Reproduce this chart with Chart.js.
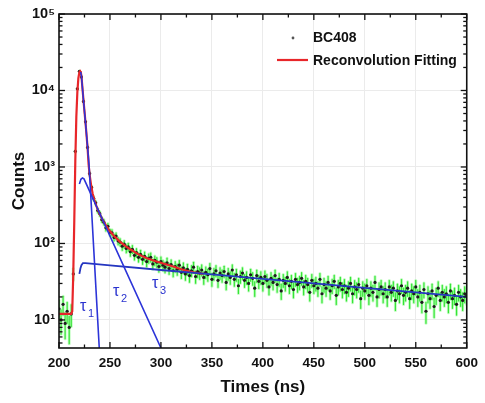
<!DOCTYPE html>
<html><head><meta charset="utf-8">
<script src="https://cdn.jsdelivr.net/npm/chart.js@4.4.0/dist/chart.umd.min.js"></script>
<style>html,body{margin:0;padding:0;background:#fff}</style>
</head><body>
<canvas id="c" width="485" height="403"></canvas>
<script>
// ---- measured data (BC408 decay) ----
const times = [
200,202,204,206,208,210,212,214,216,218,
220,222,224,226,228,230,232,234,236,238,
240,242,244,246,248,250,252,254,256,258,
260,262,264,266,268,270,272,274,276,278,
280,282,284,286,288,290,292,294,296,298,
300,302,304,306,308,310,312,314,316,318,
320,322,324,326,328,330,332,334,336,338,
340,342,344,346,348,350,352,354,356,358,
360,362,364,366,368,370,372,374,376,378,
380,382,384,386,388,390,392,394,396,398,
400,402,404,406,408,410,412,414,416,418,
420,422,424,426,428,430,432,434,436,438,
440,442,444,446,448,450,452,454,456,458,
460,462,464,466,468,470,472,474,476,478,
480,482,484,486,488,490,492,494,496,498,
500,502,504,506,508,510,512,514,516,518,
520,522,524,526,528,530,532,534,536,538,
540,542,544,546,548,550,552,554,556,558,
560,562,564,566,568,570,572,574,576,578,
580,582,584,586,588,590,592,594,596,598,
600];
const counts = [
14,10,16,9,13,8,12,40,1600,10500,
17800,15000,7200,3900,1800,820,540,390,340,270,
245,205,190,160,168,140,138,120,125,108,
104,92,98,86,90,78,84,70,76,66,
72,62,68,58,64,66,54,60,57,50,
58,52,49,56,47,53,44,50,46,52,
42,48,40,46,38,44,49,37,43,41,
45,36,42,39,47,34,40,44,33,41,
38,43,31,40,36,45,34,39,28,37,
41,33,36,30,39,35,26,38,32,36,
30,37,33,27,35,31,38,29,34,24,
33,30,36,28,32,25,34,29,31,35,
27,32,29,23,33,28,30,26,34,22,
29,26,31,24,28,32,21,27,30,25,
28,23,26,30,22,27,25,29,19,26,
24,28,21,26,23,31,20,25,27,22,
25,20,27,23,26,18,24,22,28,21,
23,26,19,24,22,27,20,23,17,25,
13,22,19,24,15,21,26,18,23,20,
22,17,24,19,21,16,23,20,18,22,
21];
// ---- reconvolution fit ----
const fitTimes  = [200,212,213,214,215,216,217,218,219,220,220.7,221.5,222,224,226,228,229,230,231.5,233,234.7,237,239.5,244,249,254,260,265,271,278,285,294,304,312,320,328,336,342];
const fitCounts = [12,12,13,40,200,1200,4500,9500,14500,17300,17800,17000,15500,7500,3800,1800,1100,800,580,450,370,300,250,190,150,125,105,93,82,72,65,59,54,50,46,43,41,40];
// ---- decay components ----
const tau1Times  = [221.2,222,224,226,228,229.5,239.5];
const tau1Counts = [17500,15500,7500,3800,1850,1050,4.3];
const tau2Times  = [220,221.5,223,224.5,300];
const tau2Counts = [600,690,720,700,4.3];
const tau3Times  = [220,221,222,223.5,226,250,300,350,400,450,500,550,600];
const tau3Counts = [40,47,52,55.5,55.5,51.7,45,39.4,34.4,30,26.2,22.9,20];
// ---- axis ticks ----
const yTickValues = [10,100,1000,10000,100000];
const yTickLabels = ['10\u00B9','10\u00B2','10\u00B3','10\u2074','10\u2075'];
const xTickValues = [200,250,300,350,400,450,500,550,600];

const FONT = "'Liberation Sans', Arial, sans-serif";
const toXY = (xs, ys) => xs.map((x, i) => ({x: x, y: ys[i]}));

const errorBars = {
  id: 'errorBars',
  beforeDatasetsDraw(chart) {
    const {ctx, chartArea: a, scales: {x, y}} = chart;
    ctx.save();
    ctx.beginPath(); ctx.rect(a.left, a.top, a.right - a.left, a.bottom - a.top); ctx.clip();
    ctx.lineCap = 'round';
    times.forEach((t, i) => {
      const v = counts[i], e = Math.sqrt(v) * 1.1;   // Poisson uncertainty of each count
      const px = x.getPixelForValue(t);
      const top = y.getPixelForValue(v + e), bot = y.getPixelForValue(Math.max(v - e, 1));
      ctx.strokeStyle = 'rgba(120,250,120,0.45)'; ctx.lineWidth = 3;
      ctx.beginPath(); ctx.moveTo(px, top); ctx.lineTo(px, bot); ctx.stroke();
      ctx.strokeStyle = 'rgba(40,225,40,0.9)'; ctx.lineWidth = 1.2;
      ctx.beginPath(); ctx.moveTo(px, top); ctx.lineTo(px, bot); ctx.stroke();
    });
    ctx.restore();
  }
};

const frame = {
  id: 'frame',
  afterDraw(chart) {
    const {ctx, chartArea: a, scales: {x, y}} = chart;
    ctx.save();
    ctx.strokeStyle = '#111';
    const seg = (x1, y1, x2, y2) => { ctx.beginPath(); ctx.moveTo(x1, y1); ctx.lineTo(x2, y2); ctx.stroke(); };
    ctx.lineWidth = 1.3;
    for (let t = x.min; t <= x.max; t += 25) {
      const px = x.getPixelForValue(t);
      const L = (xTickValues.indexOf(t) >= 0) ? 6 : 3.5;
      seg(px, a.bottom, px, a.bottom - L);
      seg(px, a.top, px, a.top + L);
    }
    for (let d = 0; d <= 5; d++) {
      for (let m = 1; m <= 9; m++) {
        const v = m * Math.pow(10, d);
        if (v < y.min || v > y.max) continue;
        const py = y.getPixelForValue(v);
        const L = m === 1 ? 6 : 3.5;
        seg(a.left, py, a.left + L, py);
        seg(a.right, py, a.right - L, py);
      }
    }
    ctx.lineWidth = 1.6;
    ctx.strokeRect(a.left, a.top, a.right - a.left, a.bottom - a.top);

    // legend
    ctx.fillStyle = '#555';
    ctx.beginPath(); ctx.arc(293, 38, 1.4, 0, Math.PI * 2); ctx.fill();
    ctx.strokeStyle = '#e8262a'; ctx.lineWidth = 2.2;
    seg(277, 60, 308, 60);
    ctx.fillStyle = '#111';
    ctx.font = 'bold 14px ' + FONT;
    ctx.textBaseline = 'middle'; ctx.textAlign = 'left';
    ctx.fillText('BC408', 313, 38);
    ctx.fillText('Reconvolution Fitting', 313, 61);

    // component labels
    ctx.fillStyle = '#2a33cf';
    const tau = (tx, ty, sub) => {
      ctx.font = '16px ' + FONT; ctx.fillText('\u03C4', tx, ty);
      ctx.font = '11px ' + FONT; ctx.fillText(sub, tx + 8, ty + 7);
    };
    tau(80, 307, '1');
    tau(113, 292, '2');
    tau(152, 284, '3');
    ctx.restore();
  }
};

new Chart(document.getElementById('c'), {
  type: 'scatter',
  data: {
    datasets: [
      {label: 'tau1', data: toXY(tau1Times, tau1Counts), showLine: true, borderColor: '#2c34d8', borderWidth: 1.6, pointRadius: 0, order: 0},
      {label: 'tau2', data: toXY(tau2Times, tau2Counts), showLine: true, borderColor: '#2c34d8', borderWidth: 1.6, pointRadius: 0, order: 0},
      {label: 'tau3', data: toXY(tau3Times, tau3Counts), showLine: true, borderColor: '#2536c0', borderWidth: 1.8, pointRadius: 0, order: 0},
      {label: 'Reconvolution Fitting', data: toXY(fitTimes, fitCounts), showLine: true, borderColor: '#e8262a', borderWidth: 2.2, pointRadius: 0, order: 1},
      {label: 'BC408', data: toXY(times, counts), showLine: false, pointRadius: 1.6, backgroundColor: '#1c1c1c', borderWidth: 0, order: 2}
    ]
  },
  options: {
    responsive: false,
    animation: false,
    events: [],
    layout: {padding: {top: 14, right: 12, left: 0, bottom: 0}},
    plugins: {legend: {display: false}, tooltip: {enabled: false}},
    scales: {
      x: {
        type: 'linear', min: 200, max: 600,
        afterBuildTicks(s) { s.ticks = xTickValues.map(v => ({value: v})); },
        ticks: {padding: 7, color: '#111', font: {family: FONT, weight: 'bold', size: 13.5}},
        grid: {color: '#ebebeb', drawTicks: false, lineWidth: 1},
        border: {display: false},
        title: {display: true, text: 'Times (ns)', color: '#111', font: {family: FONT, weight: 'bold', size: 17}, padding: {top: 0, bottom: 5}},
        afterFit(s) { s.height = 55; }
      },
      y: {
        type: 'logarithmic', min: 4.3, max: 100000,
        afterBuildTicks(s) { s.ticks = yTickValues.map(v => ({value: v})); },
        ticks: {padding: 4, color: '#111', font: {family: FONT, weight: 'bold', size: 14.5},
                callback: (v) => { const i = yTickValues.indexOf(v); return i >= 0 ? yTickLabels[i] : ''; }},
        grid: {color: '#ebebeb', drawTicks: false, lineWidth: 1},
        border: {display: false},
        title: {display: true, text: 'Counts', color: '#111', font: {family: FONT, weight: 'bold', size: 17}, padding: {top: 9, bottom: 0}},
        afterFit(s) { s.width = 59; }
      }
    }
  },
  plugins: [errorBars, frame]
});
</script>
</body></html>
